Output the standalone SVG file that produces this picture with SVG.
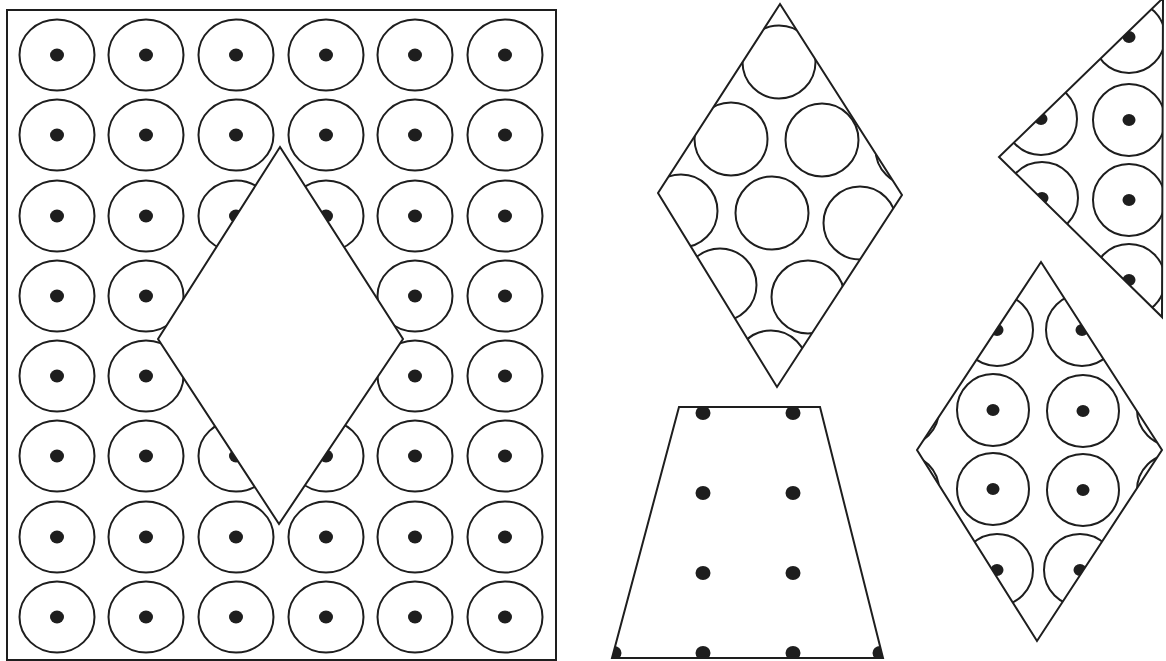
<svg xmlns="http://www.w3.org/2000/svg" xmlns:xlink="http://www.w3.org/1999/xlink" width="1166" height="661" viewBox="0 0 1166 661">
<style>
.ln{fill:none;stroke:#1e1e1e;stroke-width:2}
.dot{fill:#1e1e1e}
.wh{fill:#fff;stroke:#1e1e1e;stroke-width:2;stroke-linejoin:miter}
.edge{fill:none;stroke:#1e1e1e;stroke-width:2;stroke-linejoin:miter}
</style>
<defs>
<g id="cell"><ellipse rx="37.5" ry="35.5" class="ln"/><ellipse rx="7" ry="6.5" class="dot"/></g>
<g id="cellS"><circle r="36" class="ln"/><ellipse rx="6.5" ry="6" class="dot"/></g>
<circle id="ring" r="36.5" class="ln"/>
<ellipse id="pt" rx="7.5" ry="7" class="dot"/>
<clipPath id="clipD2"><polygon points="780,4 902,195 777,387 658,193"/></clipPath>
<clipPath id="clipT"><polygon points="1163,-2 1162,317 999,157"/></clipPath>
<clipPath id="clipD3"><polygon points="1041,262 1162,450 1037,641 917,450"/></clipPath>
<clipPath id="clipTr"><polygon points="679,407 820,407 883,658 612,658"/></clipPath>
</defs>
<rect width="1166" height="661" fill="#fff"/>

<g id="sheet">
<rect x="7" y="10" width="549" height="650" class="edge"/>
<g id="sheet-grid">
<use xlink:href="#cell" x="57" y="55"/><use xlink:href="#cell" x="146" y="55"/><use xlink:href="#cell" x="236" y="55"/><use xlink:href="#cell" x="326" y="55"/><use xlink:href="#cell" x="415" y="55"/><use xlink:href="#cell" x="505" y="55"/>
<use xlink:href="#cell" x="57" y="135"/><use xlink:href="#cell" x="146" y="135"/><use xlink:href="#cell" x="236" y="135"/><use xlink:href="#cell" x="326" y="135"/><use xlink:href="#cell" x="415" y="135"/><use xlink:href="#cell" x="505" y="135"/>
<use xlink:href="#cell" x="57" y="216"/><use xlink:href="#cell" x="146" y="216"/><use xlink:href="#cell" x="236" y="216"/><use xlink:href="#cell" x="326" y="216"/><use xlink:href="#cell" x="415" y="216"/><use xlink:href="#cell" x="505" y="216"/>
<use xlink:href="#cell" x="57" y="296"/><use xlink:href="#cell" x="146" y="296"/><use xlink:href="#cell" x="236" y="296"/><use xlink:href="#cell" x="326" y="296"/><use xlink:href="#cell" x="415" y="296"/><use xlink:href="#cell" x="505" y="296"/>
<use xlink:href="#cell" x="57" y="376"/><use xlink:href="#cell" x="146" y="376"/><use xlink:href="#cell" x="236" y="376"/><use xlink:href="#cell" x="326" y="376"/><use xlink:href="#cell" x="415" y="376"/><use xlink:href="#cell" x="505" y="376"/>
<use xlink:href="#cell" x="57" y="456"/><use xlink:href="#cell" x="146" y="456"/><use xlink:href="#cell" x="236" y="456"/><use xlink:href="#cell" x="326" y="456"/><use xlink:href="#cell" x="415" y="456"/><use xlink:href="#cell" x="505" y="456"/>
<use xlink:href="#cell" x="57" y="537"/><use xlink:href="#cell" x="146" y="537"/><use xlink:href="#cell" x="236" y="537"/><use xlink:href="#cell" x="326" y="537"/><use xlink:href="#cell" x="415" y="537"/><use xlink:href="#cell" x="505" y="537"/>
<use xlink:href="#cell" x="57" y="617"/><use xlink:href="#cell" x="146" y="617"/><use xlink:href="#cell" x="236" y="617"/><use xlink:href="#cell" x="326" y="617"/><use xlink:href="#cell" x="415" y="617"/><use xlink:href="#cell" x="505" y="617"/>
</g>
<polygon id="sheet-hole" points="280,147 403,339 279,524 158,339" class="wh"/>
</g>

<g id="diamond-rings">
<g clip-path="url(#clipD2)">
<use xlink:href="#ring" x="779" y="62"/>
<use xlink:href="#ring" x="731" y="139"/><use xlink:href="#ring" x="822" y="140"/><use xlink:href="#ring" x="912" y="149"/>
<use xlink:href="#ring" x="681" y="211"/><use xlink:href="#ring" x="772" y="213"/><use xlink:href="#ring" x="860" y="223"/>
<use xlink:href="#ring" x="720" y="285"/><use xlink:href="#ring" x="808" y="297"/>
<use xlink:href="#ring" x="771" y="367"/>
</g>
<polygon points="780,4 902,195 777,387 658,193" class="edge"/>
</g>

<g id="triangle">
<g clip-path="url(#clipT)">
<use xlink:href="#cellS" x="1129" y="37"/><use xlink:href="#cellS" x="1129" y="120"/><use xlink:href="#cellS" x="1129" y="200"/><use xlink:href="#cellS" x="1129" y="280"/>
<use xlink:href="#cellS" x="1041" y="119"/><use xlink:href="#cellS" x="1042" y="198"/>
</g>
<polygon points="1163,-2 1162,317 999,157" class="edge"/>
</g>

<g id="diamond-cells">
<g clip-path="url(#clipD3)">
<use xlink:href="#cellS" x="997" y="330"/><use xlink:href="#cellS" x="1082" y="330"/>
<use xlink:href="#cellS" x="993" y="410"/><use xlink:href="#cellS" x="1083" y="411"/>
<use xlink:href="#cellS" x="993" y="489"/><use xlink:href="#cellS" x="1083" y="490"/>
<use xlink:href="#cellS" x="997" y="570"/><use xlink:href="#cellS" x="1080" y="570"/>
<use xlink:href="#cellS" x="903" y="410"/><use xlink:href="#cellS" x="903" y="490"/>
<use xlink:href="#cellS" x="1173" y="410"/><use xlink:href="#cellS" x="1173" y="490"/>
</g>
<polygon points="1041,262 1162,450 1037,641 917,450" class="edge"/>
</g>

<g id="trapezoid">
<g clip-path="url(#clipTr)">
<use xlink:href="#pt" x="703" y="413"/><use xlink:href="#pt" x="793" y="413"/>
<use xlink:href="#pt" x="703" y="493"/><use xlink:href="#pt" x="793" y="493"/>
<use xlink:href="#pt" x="703" y="573"/><use xlink:href="#pt" x="793" y="573"/>
<use xlink:href="#pt" x="614" y="653"/><use xlink:href="#pt" x="703" y="653"/><use xlink:href="#pt" x="793" y="653"/><use xlink:href="#pt" x="880" y="653"/>
</g>
<polygon points="679,407 820,407 883,658 612,658" class="edge"/>
</g>
</svg>
